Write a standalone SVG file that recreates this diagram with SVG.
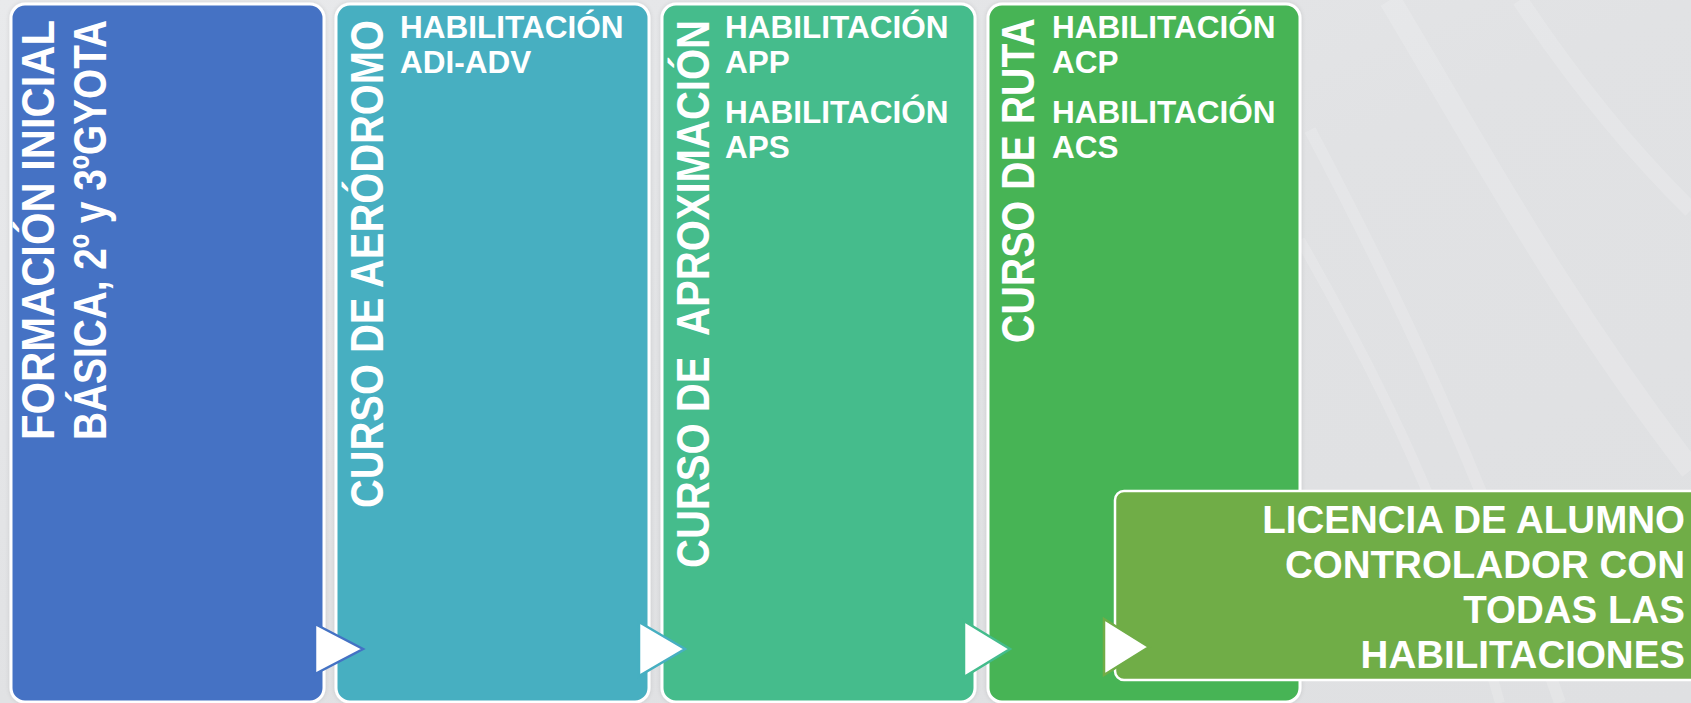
<svg xmlns="http://www.w3.org/2000/svg" width="1691" height="703" viewBox="0 0 1691 703">
<defs>
<linearGradient id="bg" x1="0" y1="0" x2="1" y2="1">
<stop offset="0" stop-color="#e9eaec"/>
<stop offset="0.5" stop-color="#e1e2e4"/>
<stop offset="1" stop-color="#dfe0e2"/>
</linearGradient>
<filter id="sh" x="-5%" y="-5%" width="110%" height="110%">
<feDropShadow dx="0" dy="0" stdDeviation="2" flood-color="#000" flood-opacity="0.12"/>
</filter>
<style>
.box{stroke:#ffffff;stroke-width:3;filter:url(#sh)}
.vt{font-family:"Liberation Sans",Arial,sans-serif;font-weight:bold;fill:#ffffff}
.ht{font-family:"Liberation Sans",Arial,sans-serif;font-weight:bold;fill:#ffffff;font-size:31.5px}
.lt{font-family:"Liberation Sans",Arial,sans-serif;font-weight:bold;fill:#ffffff;font-size:38.5px;text-anchor:end}
.arr{fill:#ffffff;stroke-width:2.5;stroke-linejoin:miter}
.streak{fill:none;stroke:#ffffff;stroke-opacity:0.16}
</style>
</defs>
<rect x="0" y="0" width="1691" height="703" fill="url(#bg)"/>
<g id="background-streaks">
<path class="streak" stroke-width="22" d="M1390 0 C1480 150 1560 300 1691 470"/>
<path class="streak" stroke-width="12" d="M1310 130 C1400 300 1480 470 1560 703"/>
<path class="streak" stroke-width="16" d="M1520 0 C1580 90 1640 160 1691 210"/>
<path class="streak" stroke-width="10" d="M1300 240 C1380 380 1450 520 1500 703"/>
</g>
<g id="node-formacion">
<rect class="box" x="11" y="4" width="313" height="698" rx="14" fill="#4472c4"/>
<text class="vt" font-size="46" transform="translate(54,440) rotate(-90)" textLength="420" lengthAdjust="spacingAndGlyphs">FORMACIÓN INICIAL</text>
<text class="vt" font-size="46" transform="translate(106,440) rotate(-90)" textLength="420" lengthAdjust="spacingAndGlyphs">BÁSICA, 2º y 3ºGYOTA</text>
</g>
<g id="node-aerodromo">
<rect class="box" x="336" y="4" width="313" height="698" rx="14" fill="#46afc1"/>
<text class="vt" font-size="47" transform="translate(383,508) rotate(-90)" textLength="488" lengthAdjust="spacingAndGlyphs">CURSO DE AERÓDROMO</text>
<text class="ht" x="400" y="38">HABILITACIÓN</text>
<text class="ht" x="400" y="73">ADI-ADV</text>
</g>
<g id="node-aproximacion">
<rect class="box" x="662" y="4" width="313" height="698" rx="14" fill="#44bc8c"/>
<text class="vt" font-size="47" xml:space="preserve" transform="translate(709,568) rotate(-90)" textLength="548" lengthAdjust="spacingAndGlyphs">CURSO DE  APROXIMACIÓN</text>
<text class="ht" x="725" y="38">HABILITACIÓN</text>
<text class="ht" x="725" y="73">APP</text>
<text class="ht" x="725" y="123">HABILITACIÓN</text>
<text class="ht" x="725" y="158">APS</text>
</g>
<g id="node-ruta">
<rect class="box" x="988" y="4" width="312" height="698" rx="14" fill="#47b455"/>
<text class="vt" font-size="47" transform="translate(1034,343) rotate(-90)" textLength="325" lengthAdjust="spacingAndGlyphs">CURSO DE RUTA</text>
<text class="ht" x="1052" y="38">HABILITACIÓN</text>
<text class="ht" x="1052" y="73">ACP</text>
<text class="ht" x="1052" y="123">HABILITACIÓN</text>
<text class="ht" x="1052" y="158">ACS</text>
</g>
<g id="node-licencia">
<rect x="1115" y="491" width="600" height="189" rx="9" fill="#70ad47" stroke="#ffffff" stroke-width="2.5"/>
<text class="lt" x="1685" y="533">LICENCIA DE ALUMNO</text>
<text class="lt" x="1685" y="578">CONTROLADOR CON</text>
<text class="lt" x="1685" y="623">TODAS LAS</text>
<text class="lt" x="1685" y="668">HABILITACIONES</text>
</g>
<g id="connectors">
<polygon class="arr" stroke="#4472c4" points="315,624 363,649 315,674"/>
<polygon class="arr" stroke="#46afc1" points="639,622 685,649 639,676"/>
<polygon class="arr" stroke="#44bc8c" points="964,621 1010,649 964,677"/>
<polygon class="arr" stroke="#70ad47" points="1104,619 1149,647 1104,675"/>
</g>
</svg>
